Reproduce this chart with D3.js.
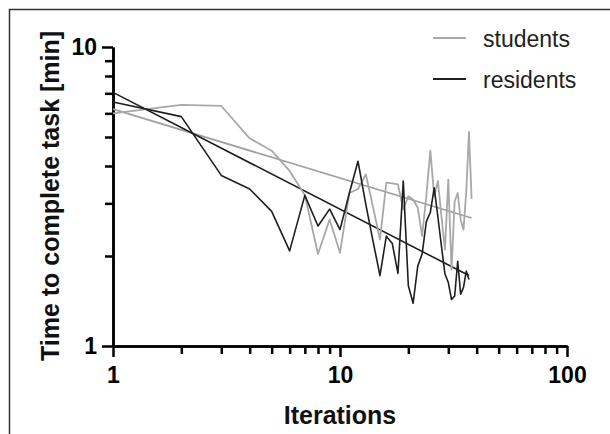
<!DOCTYPE html>
<html lang="en">
<head>
<meta charset="UTF-8">
<title>Time to complete task</title>
<script src="https://d3js.org/d3.v7.min.js"></script>
<style>
  body { margin: 0; background: #fff; }
  svg { display: block; font-family: "Liberation Sans", Arial, sans-serif; }
  .axis path, .axis line { stroke: #000; stroke-width: 2.5px; }
  .axis text { font-size: 23px; font-weight: bold; fill: #000; }
  .title { font-size: 25px; font-weight: bold; fill: #111; }
  .legend text { font-size: 23px; fill: #222; }
</style>
</head>
<body>
<svg id="chart" width="610" height="434"></svg>
<script>
// iterations (x) and time to complete task in minutes (y)
const iterStudents = [1,2,3,4,5,6,7,8,9,10,11,12,13,14,15,16,17,18,19,20,
                      21,22,23,24,25,26,27,28,29,30,31,32,33,34,35,36,37,38];
const timeStudents = [6.0,6.4,6.35,4.95,4.5,3.85,3.2,2.03,2.65,2.05,3.25,3.35,3.75,2.9,2.27,3.52,3.5,3.47,2.86,3.17,
                      3.09,2.9,2.33,3.17,4.5,3.17,3.56,2.7,2.1,3.6,1.8,3.05,3.25,2.65,2.45,3.3,5.2,3.1];

const iterResidents = [1,2,3,4,5,6,7,8,9,10,11,12,13,14,15,16,17,18,19,20,
                       21,22,23,24,25,26,27,28,29,30,31,32,33,34,35,36,37];
const timeResidents = [6.55,5.85,3.72,3.35,2.82,2.08,3.19,2.52,2.87,2.45,3.25,4.15,2.97,2.23,1.72,2.33,2.2,1.75,3.56,1.59,
                       1.39,1.85,2.03,2.6,2.8,3.38,2.7,2.15,1.74,1.63,1.43,1.47,1.92,1.49,1.57,1.78,1.67];

// power-law fit lines, end points as drawn
const fitStudents = [[1, 6.2], [38, 2.68]];
const fitResidents = [[1, 7.05], [37, 1.72]];

const seriesNames = ["students", "residents"];
const xMajor = [1, 10, 100];
const xMinor = [2,3,4,5,6,7,8,9,20,30,40,50,60,70,80,90];
const yMajor = [1, 10];
const yMinor = [2,3,4,5,6,7,8,9];

const colors = { students: "#a8a8a8", residents: "#1e1e1e" };

let svg = d3.select("#chart");

// frame around the figure
svg.append("rect")
  .attr("x", 9.5).attr("y", 9.5)
  .attr("width", 700).attr("height", 500)
  .attr("fill", "none").attr("stroke", "#333").attr("stroke-width", 1.5);

let x = d3.scaleLog().domain([1, 100]).range([113, 567]);
let y = d3.scaleLog().domain([1, 10]).range([346, 47]);

// axes: minor ticks first, then major ticks with labels
svg.append("g").attr("class", "axis")
  .attr("transform", "translate(0,346)")
  .call(d3.axisBottom(x).tickValues(xMinor).tickSize(8).tickSizeOuter(0).tickFormat(""));
svg.append("g").attr("class", "axis")
  .attr("transform", "translate(0,346)")
  .call(d3.axisBottom(x).tickValues(xMajor).tickSize(11).tickSizeOuter(0).tickPadding(10).tickFormat(d3.format("d")));

svg.append("g").attr("class", "axis")
  .attr("transform", "translate(113,0)")
  .call(d3.axisLeft(y).tickValues(yMinor).tickSize(8).tickSizeOuter(0).tickFormat(""));
svg.append("g").attr("class", "axis")
  .attr("transform", "translate(113,0)")
  .call(d3.axisLeft(y).tickValues(yMajor).tickSize(11).tickSizeOuter(0).tickPadding(5).tickFormat(d3.format("d")));

// axis titles
svg.append("text").attr("class", "title")
  .attr("x", 340).attr("y", 424)
  .attr("text-anchor", "middle")
  .text("Iterations");
svg.append("text").attr("class", "title")
  .attr("transform", "translate(59,196) rotate(-90)")
  .attr("text-anchor", "middle")
  .text("Time to complete task [min]");

let line = d3.line().x(d => x(d[0])).y(d => y(d[1]));

// fit lines
svg.append("path").attr("d", line(fitStudents))
  .attr("fill", "none").attr("stroke", "#a0a0a0").attr("stroke-width", 1.8);
svg.append("path").attr("d", line(fitResidents))
  .attr("fill", "none").attr("stroke", "#1e1e1e").attr("stroke-width", 1.6);

// raw series
svg.append("path")
  .attr("d", line(iterStudents.map((d, i) => [d, timeStudents[i]])))
  .attr("fill", "none").attr("stroke", colors.students).attr("stroke-width", 1.8)
  .attr("stroke-linejoin", "round");
svg.append("path")
  .attr("d", line(iterResidents.map((d, i) => [d, timeResidents[i]])))
  .attr("fill", "none").attr("stroke", colors.residents).attr("stroke-width", 1.6)
  .attr("stroke-linejoin", "round");

// legend
let legend = svg.append("g").attr("class", "legend");
seriesNames.forEach(function(name, i) {
  let ly = 38 + i * 41;
  legend.append("line")
    .attr("x1", 433).attr("x2", 466).attr("y1", ly).attr("y2", ly)
    .attr("stroke", colors[name]).attr("stroke-width", 1.8);
  legend.append("text")
    .attr("x", 483).attr("y", ly + 8.5)
    .text(name);
});
</script>
</body>
</html>
